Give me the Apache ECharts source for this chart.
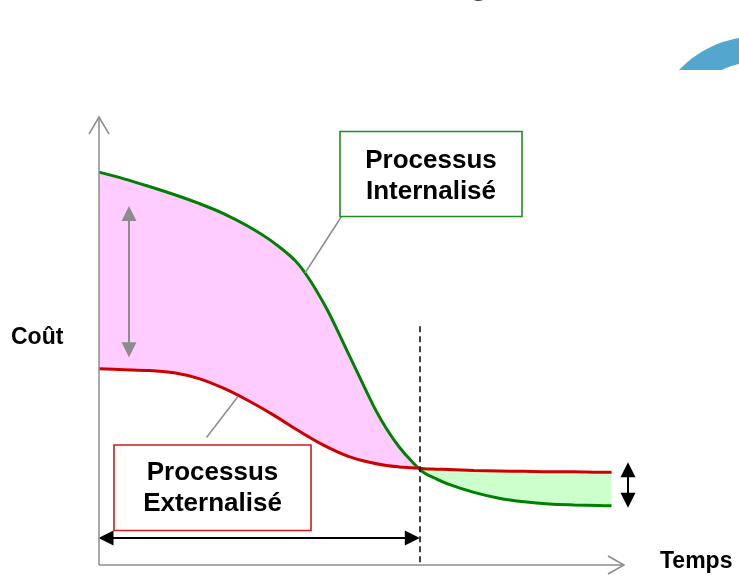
<!DOCTYPE html>
<html lang="fr">
<head>
<meta charset="UTF-8">
<title>Coût : processus internalisé / externalisé</title>
<script src="https://cdn.jsdelivr.net/npm/echarts@6/dist/echarts.min.js"></script>
<style>
  html, body { margin: 0; padding: 0; background: #fff; }
  #main { width: 739px; height: 577px; }
</style>
</head>
<body>
<div id="main"></div>
<script>
var temps        = [0, 0.5, 1, 1.5, 2, 2.5, 3, 3.5, 4, 4.5, 5, 5.5, 5.75, 6, 6.25, 6.5, 6.75, 7, 7.5, 8, 8.5, 9, 9.5, 10, 10.25];
var coutInterne  = [87.7, 86.2, 84.5, 82.7, 80.7, 78.4, 75.5, 71.9, 67.0, 58.3, 46.9, 35.3, 30.4, 26.4, 23.2, 20.6, 19.2, 18.0, 16.2, 14.9, 14.1, 13.6, 13.4, 13.3, 13.2];
var coutExterne  = [43.8, 43.6, 43.4, 42.9, 41.6, 39.4, 36.6, 33.4, 29.9, 26.7, 24.2, 22.7, 22.2, 21.9, 21.7, 21.5, 21.4, 21.3, 21.1, 21.0, 20.9, 20.8, 20.8, 20.7, 20.7];

// repères du schéma
var axeMax       = [10.5, 100];     // bout des flèches des axes
var ecartDebut   = [0.6, 80, 46.5]; // flèche grise : x, haut, bas
var ecartFin     = [10.58, 22.8, 12.9]; // flèche noire : x, haut, bas
var hautPointille = 53.3;
var niveauDuree  = 6;

var FONT = '"Liberation Sans", Arial, sans-serif';
var VERT = '#008000', ROUGE = '#cc0000', GRIS = '#8c8c8c';

var chart = echarts.init(document.getElementById('main'));

function paires(xs, ys) {
    var out = [];
    for (var i = 0; i < xs.length; i++) out.push([xs[i], ys[i]]);
    return out;
}

// point où les deux courbes se croisent
function croisement() {
    for (var i = 0; i < temps.length - 1; i++) {
        var d0 = coutInterne[i] - coutExterne[i];
        var d1 = coutInterne[i + 1] - coutExterne[i + 1];
        if (d0 > 0 && d1 <= 0) {
            var t = d0 / (d0 - d1);
            return {
                i: i,
                x: temps[i] + t * (temps[i + 1] - temps[i]),
                y: coutExterne[i] + t * (coutExterne[i + 1] - coutExterne[i])
            };
        }
    }
}
var cx = croisement();

function renderZones(params, api) {
    var rose = [], vert = [], i;
    for (i = 0; i <= cx.i; i++) rose.push(api.coord([temps[i], coutInterne[i]]));
    rose.push(api.coord([cx.x, cx.y]));
    for (i = cx.i; i >= 0; i--) rose.push(api.coord([temps[i], coutExterne[i]]));

    vert.push(api.coord([cx.x, cx.y]));
    for (i = cx.i + 1; i < temps.length; i++) vert.push(api.coord([temps[i], coutExterne[i]]));
    for (i = temps.length - 1; i > cx.i; i--) vert.push(api.coord([temps[i], coutInterne[i]]));

    return {
        type: 'group',
        children: [
            { type: 'polygon', shape: { points: rose }, style: { fill: '#ffccff' } },
            { type: 'polygon', shape: { points: vert }, style: { fill: '#ccffcc' } }
        ]
    };
}

var option = {
    animation: false,
    grid: { left: 99, top: 117, width: 550, height: 448 },
    xAxis: { type: 'value', min: 0, max: 11, show: false },
    yAxis: { type: 'value', min: 0, max: 100, show: false },
    series: [
        { type: 'custom', renderItem: renderZones, data: [[0, 0]], silent: true, z: 1 },
        {
            id: 'interne', name: 'Processus Internalisé', type: 'line',
            data: paires(temps, coutInterne), smooth: 0.35, showSymbol: false, silent: true,
            lineStyle: { color: VERT, width: 3 }, z: 3
        },
        {
            id: 'externe', name: 'Processus Externalisé', type: 'line',
            data: paires(temps, coutExterne), smooth: 0.35, showSymbol: false, silent: true,
            lineStyle: { color: ROUGE, width: 3 }, z: 4
        }
    ]
};
chart.setOption(option);

// deuxième passe : repères et textes placés à partir des échelles
function px(p) { return chart.convertToPixel({ gridIndex: 0 }, p); }
var o = px([0, 0]);
var ux = px([1, 0])[0] - o[0];
var uy = o[1] - px([0, 1])[1];
var demi = 7; // demi-taille des pointes de flèche
var dx = demi / ux, dy = demi / uy;

function fleche(a, b, couleur, largeur) {
    return [
        { coord: a, lineStyle: { color: couleur, width: largeur, type: 'solid' }, symbol: 'triangle' },
        { coord: b, symbol: 'triangle' }
    ];
}

var markLine = {
    silent: true,
    symbolSize: 15,
    label: { show: false },
    data: [
        [
            { coord: [cx.x, hautPointille], symbol: 'none', lineStyle: { color: '#000', width: 1.5, type: [6, 4] } },
            { coord: [cx.x, 0], symbol: 'none' }
        ],
        fleche([0 + dx, niveauDuree], [cx.x - dx, niveauDuree], '#000', 2),
        fleche([ecartDebut[0], ecartDebut[1] - dy], [ecartDebut[0], ecartDebut[2] + dy], GRIS, 2),
        fleche([ecartFin[0], ecartFin[1] - dy], [ecartFin[0], ecartFin[2] + dy], '#000', 2)
    ]
};

var xFin = px([axeMax[0], 0]);
var yFin = px([0, axeMax[1]]);

// forme bleue en haut à droite
var bleu = [];
(function () {
    var c = [757, 144], r = 107.5, r0 = 82, bas = 70, n = 30, k, a;
    var a1 = -Math.PI + Math.asin((c[1] - bas) / r);
    var a2 = -Math.PI + Math.asin((c[1] - bas) / r0);
    for (k = 0; k <= n; k++) {
        a = a1 + (-Math.PI / 2 - a1) * k / n;
        bleu.push([c[0] + r * Math.cos(a), c[1] + r * Math.sin(a)]);
    }
    for (k = n; k >= 0; k--) {
        a = a2 + (-Math.PI / 2 - a2) * k / n;
        bleu.push([c[0] + r0 * Math.cos(a), c[1] + r0 * Math.sin(a)]);
    }
})();

function boite(x, y, w, h, bord, texte, cy) {
    return [
        { type: 'rect', shape: { x: x, y: y, width: w, height: h }, style: { fill: '#fff', stroke: bord, lineWidth: 1.6 }, z: 10 },
        {
            type: 'text', x: x + w / 2, y: cy, z: 11,
            style: { text: texte, font: 'bold 26px ' + FONT, fill: '#000', align: 'center', verticalAlign: 'middle', lineHeight: 31 }
        }
    ];
}

var graphic = [
    { type: 'text', x: 479, y: -13, style: { text: 'g', font: 'bold 30px ' + FONT, fill: '#404040', align: 'center', verticalAlign: 'middle' } },
    { type: 'polygon', shape: { points: bleu }, style: { fill: '#53a6cd' } },
    // axes
    { type: 'polyline', shape: { points: [[o[0], o[1]], [xFin[0], xFin[1]]] }, style: { stroke: GRIS, lineWidth: 1.5, fill: null }, z: 5 },
    { type: 'polyline', shape: { points: [[o[0], o[1]], [yFin[0], yFin[1]]] }, style: { stroke: GRIS, lineWidth: 1.5, fill: null }, z: 5 },
    { type: 'polyline', shape: { points: [[xFin[0] - 16, xFin[1] - 9], [xFin[0], xFin[1]], [xFin[0] - 16, xFin[1] + 9]] }, style: { stroke: GRIS, lineWidth: 1.5, fill: null }, z: 5 },
    { type: 'polyline', shape: { points: [[yFin[0] - 10, yFin[1] + 17], [yFin[0], yFin[1]], [yFin[0] + 10, yFin[1] + 17]] }, style: { stroke: GRIS, lineWidth: 1.5, fill: null }, z: 5 },
    { type: 'text', x: 11, y: 338, style: { text: 'Coût', font: 'bold 23px ' + FONT, fill: '#000', align: 'left', verticalAlign: 'middle' } },
    { type: 'text', x: 660, y: 562, style: { text: 'Temps', font: 'bold 23px ' + FONT, fill: '#000', align: 'left', verticalAlign: 'middle' } },
    // traits de rappel
    { type: 'line', shape: { x1: 341.5, y1: 216.5, x2: 305, y2: 273 }, style: { stroke: GRIS, lineWidth: 1.5 }, z: 6 },
    { type: 'line', shape: { x1: 238, y1: 396.5, x2: 206.5, y2: 437.5 }, style: { stroke: GRIS, lineWidth: 1.5 }, z: 6 }
].concat(
    boite(340, 131.5, 182, 85, '#1f8f1f', 'Processus\nInternalisé', 176),
    boite(114, 445, 197, 85.5, '#d01c1c', 'Processus\nExternalisé', 488)
);

chart.setOption({
    series: [{ id: 'externe', markLine: markLine }],
    graphic: graphic
});
</script>
</body>
</html>
